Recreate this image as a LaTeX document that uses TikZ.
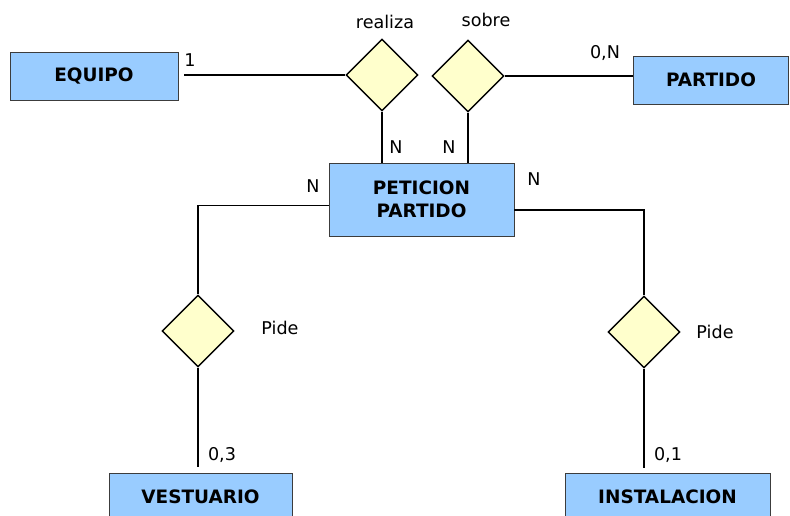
\documentclass[tikz,border=0pt]{standalone}
\usepackage{fontspec}
\setmainfont{DejaVu Sans}
\usepackage{xcolor}
\usetikzlibrary{positioning,shapes.geometric}
\definecolor{entblue}{RGB}{153,204,255}
\definecolor{relyellow}{RGB}{255,255,204}
\definecolor{edgegray}{RGB}{60,60,60}

\begin{document}
\begin{tikzpicture}[
  x=0.02cm,y=-0.02cm,
  entity/.style={draw=edgegray,fill=entblue,align=center,inner sep=0pt,
    font=\fontsize{10.5}{13}\selectfont\bfseries,minimum height=0.96cm},
  rel/.style={diamond,draw=black,fill=relyellow,line width=0.8pt,
    inner sep=0pt,minimum width=1.44cm,minimum height=1.44cm},
  lbl/.style={font=\fontsize{10}{12}\selectfont,inner sep=0pt},
  link/.style={line width=1.1pt,draw=black}
]
\useasboundingbox (0,0) rectangle (790,516);
\clip (0,0) rectangle (790,516);
% entidades
\node[entity,minimum width=3.36cm] (equipo) at (94,76.5) {EQUIPO};
\node[entity,minimum width=3.10cm] (partido) at (711,80) {PARTIDO};
\node[entity,minimum width=3.70cm,minimum height=1.46cm] (peticion) at (421.5,199.5) {PETICION\\PARTIDO};
\node[entity,minimum width=3.66cm] (vestuario) at (200.5,497) {VESTUARIO};
\node[entity,minimum width=4.10cm] (instalacion) at (667.5,497) {INSTALACION};
% relaciones
\node[rel] (realiza) at (382,75) {};
\node[rel] (sobre) at (468,76) {};
\node[rel] (pidevest) at (198,331) {};
\node[rel] (pideinst) at (644,332) {};
% nombres de relaciones
\node[lbl] (realizatxt) at (385,22) {realiza};
\node[lbl] (sobretxt) at (486,20) {sobre};
\node[lbl] (pidevesttxt) at (280,328) {Pide};
\node[lbl] (pideinsttxt) at (715,332) {Pide};
% cardinalidades
\node[lbl] (card1) at (190,60) {1};
\node[lbl] (card0n) at (605,53) {0,N};
\node[lbl] (cardnr) at (396,147) {N};
\node[lbl] (cardns) at (449,147) {N};
\node[lbl] (cardnl) at (313,186) {N};
\node[lbl] (cardnd) at (534,179) {N};
\node[lbl] (card03) at (222,455) {0,3};
\node[lbl] (card01) at (668,455) {0,1};
% conexiones
\draw[link,shorten <=0.12cm] (equipo.east |- realiza.west) -- (realiza.west);
\draw[link] (sobre.east) -- (partido.west |- sobre.east);
\draw[link] (realiza.south) -- (realiza.south |- peticion.north);
\draw[link] (sobre.south) -- (sobre.south |- peticion.north);
\draw[link] ([yshift=-0.12cm]peticion.west) -| (pidevest.north);
\draw[link] ([yshift=-0.21cm]peticion.east) -| (pideinst.north);
\draw[link,shorten >=0.12cm] (pidevest.south) -- (pidevest.south |- vestuario.north);
\draw[link,shorten >=0.1cm] (pideinst.south) -- (pideinst.south |- instalacion.north);
\end{tikzpicture}
\end{document}
